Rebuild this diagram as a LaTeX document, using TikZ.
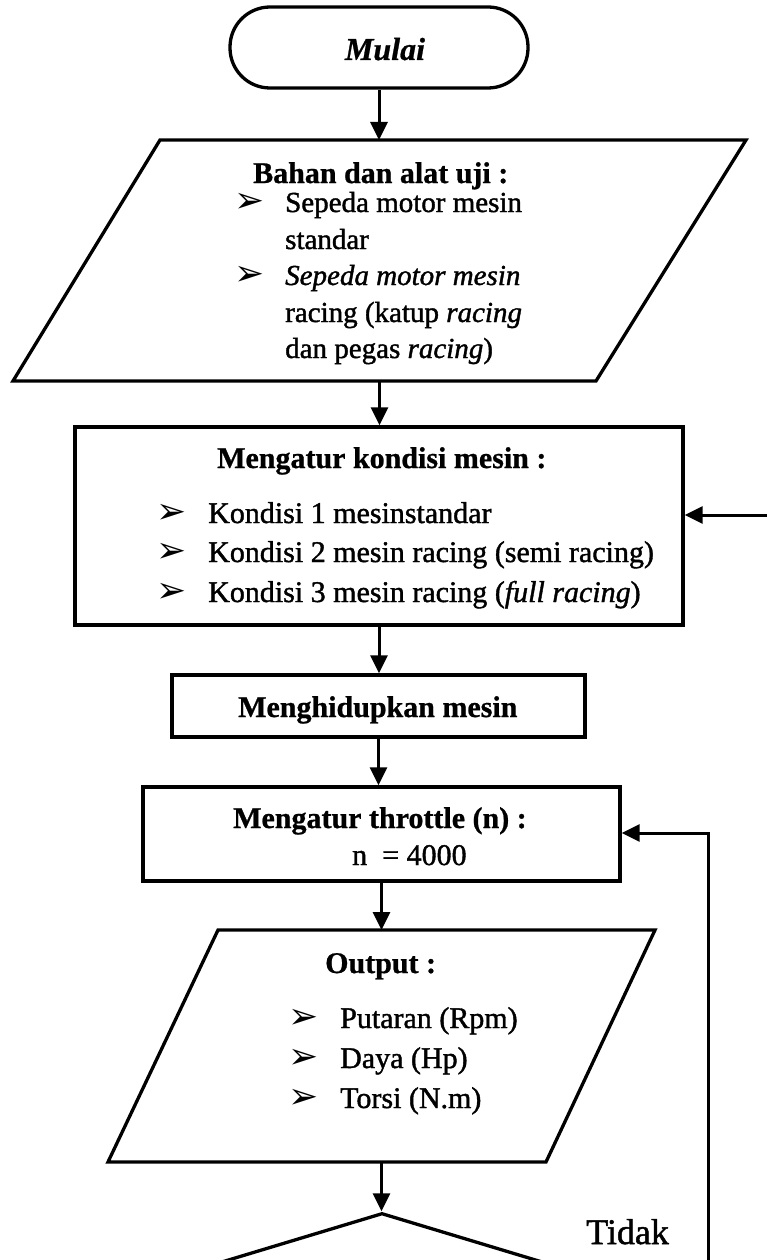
\documentclass[tikz,border=0pt]{standalone}
\usepackage{fontspec}
\setmainfont{Liberation Serif}[BoldFeatures={FakeBold=0.8}, BoldItalicFeatures={FakeBold=0.8}]
\newfontfamily\itemfont{Liberation Serif}[FakeBold=1.3]
\newfontfamily\symfont{DejaVu Sans}
\usetikzlibrary{arrows.meta,shapes.geometric,calc}
\begin{document}
\begin{tikzpicture}[x=1pt,y=-1pt,
  frame/.style={draw, line width=3.3pt},
  conn/.style={line width=3pt, -{Triangle[length=18pt,width=17pt]}},
  ghost/.style={inner sep=0pt, outer sep=0pt, draw=none},
  ttl/.style={anchor=base west, inner sep=0pt, font=\fontsize{30}{30}\selectfont\bfseries},
  itm/.style={anchor=base west, inner sep=0pt, font=\itemfont\fontsize{30}{30}\selectfont},
  itmA/.style={anchor=base west, inner sep=0pt, font=\itemfont\fontsize{29}{29}\selectfont},
  bul/.style={anchor=base west, inner sep=0pt, font=\symfont\fontsize{36}{36}\selectfont},
]
\clip (0,0) rectangle (767,1260);
\fill[white] (0,0) rectangle (767,1260);

% Start
\node[frame, rounded corners=40pt, minimum width=298pt, minimum height=81pt, inner sep=0pt] (term) at (379,47.5) {};
\node[anchor=base, inner sep=0pt, font=\fontsize{32}{32}\selectfont\bfseries\itshape] (tmulai) at (385,60) {Mulai};

% Input parallelogram
\node[ghost, minimum width=733pt, minimum height=241pt] (p1) at (379.5,260.5) {};
\draw[frame] ($(p1.north west)+(147,0)$) -- (p1.north east) -- ($(p1.south east)+(-150,0)$) -- (p1.south west) -- cycle;
\node[ttl] (t1) at (253,183) {Bahan dan alat uji :};
\node[bul] (b11) at (234,212) {➢};
\node[itmA] (t11) at (285,212) {Sepeda motor mesin};
\node[itmA] (t12) at (285,249) {standar};
\node[bul] (b12) at (234,285) {➢};
\node[itmA] (t13) at (285,285) {\itshape Sepeda motor mesin};
\node[itmA] (t14) at (285,322) {racing (katup \textit{racing}};
\node[itmA] (t15) at (285,358) {dan pegas \textit{racing})};

% Kondisi box
\node[frame, minimum width=608pt, minimum height=198pt, inner sep=0pt] (r2) at (379,526) {};
\node[ttl] (t2) at (217,468) {Mengatur kondisi mesin :};
\node[bul] (b21) at (156,523) {➢};
\node[itm] (t21) at (208,523) {Kondisi 1 mesinstandar};
\node[bul] (b22) at (156,562) {➢};
\node[itm] (t22) at (208,562) {Kondisi 2 mesin racing (semi racing)};
\node[bul] (b23) at (156,602) {➢};
\node[itm] (t23) at (208,602) {Kondisi 3 mesin racing (\textit{full racing})};

% Menghidupkan
\node[frame, minimum width=413pt, minimum height=62pt, inner sep=0pt] (r3) at (378.5,706) {};
\node[ttl] (t3) at (238,717) {Menghidupkan mesin};

% Throttle
\node[frame, minimum width=477pt, minimum height=94pt, inner sep=0pt] (r4) at (381.5,834) {};
\node[ttl] (t4) at (233,828) {Mengatur throttle (n) :};
\node[itm] (t41) at (352,865) {n\ \ = 4000};

% Output parallelogram
\node[ghost, minimum width=547pt, minimum height=232pt] (p2) at (381.5,1046) {};
\draw[frame] ($(p2.north west)+(110,0)$) -- (p2.north east) -- ($(p2.south east)+(-109,0)$) -- (p2.south west) -- cycle;
\node[ttl] (t5) at (325,973) {Output :};
\node[bul] (b51) at (288,1028) {➢};
\node[itm] (t51) at (340,1028) {Putaran (Rpm)};
\node[bul] (b52) at (288,1068) {➢};
\node[itm] (t52) at (340,1068) {Daya (Hp)};
\node[bul] (b53) at (288,1108) {➢};
\node[itm] (t53) at (340,1108) {Torsi (N.m)};

% Decision
\node[frame, shape=diamond, minimum width=600pt, minimum height=182pt, inner sep=0pt] (dec) at (382,1304) {};
\node[anchor=base west, inner sep=0pt, font=\itemfont\fontsize{36}{36}\selectfont] (tidak) at (586,1244) {Tidak};

% Connectors
\draw[conn] (term.south) -- (term.south |- p1.north);
\draw[conn] (p1.south) -- (p1.south |- r2.north);
\coordinate (inR) at (767,515);
\draw[conn] (inR) -- (inR -| r2.east);
\draw[conn] (r2.south) -- (r2.south |- r3.north);
\draw[conn] (r3.south) -- (r3.south |- r4.north);
\draw[conn] (r4.south) -- (r4.south |- p2.north);
\draw[conn] (p2.south) -- (p2.south |- dec.north);
\coordinate (loopB) at (708,1275);
\coordinate (loopT) at (708,833);
\draw[conn] (loopB) -- (loopT) -- (loopT -| r4.east);
\end{tikzpicture}
\end{document}
